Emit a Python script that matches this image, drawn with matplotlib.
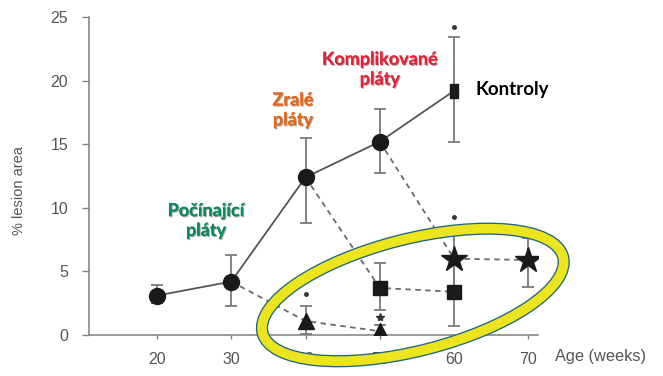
import matplotlib
matplotlib.use("Agg")
import matplotlib.pyplot as plt
import matplotlib.patheffects as pe
from matplotlib.patches import Ellipse
from matplotlib.transforms import ScaledTranslation
import numpy as np

# control group (solid line, circles -> square at 60 weeks)
ctrl_age = [20, 30, 40, 50, 60]
ctrl_val = [3.1, 4.2, 12.4, 15.2, 19.2]
ctrl_hi = [3.9, 6.3, 15.5, 17.8, 23.4]
ctrl_lo = [2.5, 2.3, 8.8, 12.7, 15.2]

# treatment started at 30 weeks (triangles)
tri_age = [40, 50]
tri_val = [1.1, 0.3]
tri_hi = [2.3, 0.8]
tri_lo = [0.05, 0.0]

# treatment started at 40 weeks (squares)
sq_age = [50, 60]
sq_val = [3.7, 3.4]
sq_hi = [5.7, 6.0]
sq_lo = [2.0, 0.7]

# treatment started at 50 weeks (stars)
star_age = [60, 70]
star_val = [6.0, 5.9]
star_hi = [8.3, 7.6]
star_lo = [3.8, 3.8]

# significance marks above bars
dot_age = [40, 60, 60]
dot_val = [3.2, 9.3, 24.2]
ast_age = [50]
ast_val = [1.4]

x_ticks = [20, 30, 40, 50, 60, 70]
y_ticks = [0, 5, 10, 15, 20, 25]

MARK = "#1a1a1a"
LINE = "#555555"
ERR = "#7a7a7a"
AXIS = "#7f7f7f"
TXT = "#555555"
SANS = ["Liberation Sans", "DejaVu Sans"]

# tall rectangle used for the control point at 60 weeks
TALL_BOX = [(-0.6, -1), (0.6, -1), (0.6, 1), (-0.6, 1), (-0.6, -1)]


def errbars(ax, x, v, hi, lo):
    v = np.array(v)
    yerr = [v - np.array(lo), np.array(hi) - v]
    ax.errorbar(x, v, yerr=yerr, fmt="none", ecolor=ERR, elinewidth=1.3,
                capsize=4.5, capthick=1.3, zorder=2)


def main():
    fig = plt.figure(figsize=(6.63, 3.76), dpi=100)
    ax = fig.add_axes([0.1342, 0.109, 0.6773, 0.8457])

    # error bars
    errbars(ax, ctrl_age, ctrl_val, ctrl_hi, ctrl_lo)
    errbars(ax, tri_age, tri_val, tri_hi, tri_lo)
    errbars(ax, sq_age, sq_val, sq_hi, sq_lo)
    errbars(ax, star_age, star_val, star_hi, star_lo)

    # lines
    ax.plot(ctrl_age, ctrl_val, color=LINE, lw=1.3, zorder=3)
    dash = dict(color="#6a6a6a", lw=1.3, ls=(0, (3, 2.5)), zorder=3)
    ax.plot([ctrl_age[1]] + tri_age, [ctrl_val[1]] + tri_val, **dash)
    ax.plot([ctrl_age[2]] + sq_age, [ctrl_val[2]] + sq_val, **dash)
    ax.plot([ctrl_age[3]] + star_age, [ctrl_val[3]] + star_val, **dash)

    # markers
    ax.plot(ctrl_age[:4], ctrl_val[:4], "o", color=MARK, ms=11.5, zorder=4)
    ax.plot(ctrl_age[4:], ctrl_val[4:], marker=TALL_BOX, ls="none",
            color=MARK, ms=10, zorder=4)
    ax.plot(tri_age, tri_val, "^", color=MARK, ms=11, zorder=4)
    ax.plot(sq_age, sq_val, "s", color=MARK, ms=10.5, zorder=4)
    ax.plot(star_age, star_val, "*", color=MARK, ms=19, zorder=4)
    ax.plot(dot_age, dot_val, ".", color="#333333", ms=5, zorder=4)
    ax.plot(ast_age, ast_val, "*", color="#333333", ms=6, zorder=4)

    # axes styling
    ax.set_xlim(10.85, 71.3)
    ax.set_ylim(0, 25)
    ax.set_xticks(x_ticks)
    ax.set_yticks(y_ticks)
    for s in ["top", "right"]:
        ax.spines[s].set_visible(False)
    for s in ["left", "bottom"]:
        ax.spines[s].set_color(AXIS)
        ax.spines[s].set_linewidth(1.1)
    ax.tick_params(colors=AXIS, labelcolor=TXT, labelsize=11.5, width=1)
    ax.tick_params(axis="y", length=5, pad=10)
    ax.tick_params(axis="x", length=3, pad=9)
    for lab in ax.get_xticklabels() + ax.get_yticklabels():
        lab.set_fontfamily(SANS)
    ax.set_ylabel("% lesion area", color=TXT, fontsize=10.5, fontfamily=SANS)
    ax.yaxis.set_label_coords(-0.140, 0.454)
    fig.text(0.837, 0.051, "Age (weeks)", color=TXT, fontsize=11.8,
             fontfamily=SANS, va="center", ha="left")

    # labels
    shadow = [pe.withSimplePatchShadow(offset=(0.8, -0.8), shadow_rgbFace="#555555", alpha=0.5),
              pe.Normal()]
    common = dict(fontfamily=["Lato", "DejaVu Sans"], fontweight="bold",
                  fontsize=13, ha="center", va="center", linespacing=1.2,
                  path_effects=shadow, zorder=6)
    ax.text(26.6, 9.0, "Počínající\npláty", color="#0c8a5c", **common)
    ax.text(38.3, 17.7, "Zralé\npláty", color="#e2691c", **common)
    ax.text(50.0, 20.9, "Komplikované\npláty", color="#e3243a", **common)
    ax.text(62.9, 19.3, "Kontroly", color="black", fontsize=13.5,
            fontfamily=["Lato", "DejaVu Sans"], fontweight="bold",
            ha="left", va="center", zorder=6)

    # yellow highlight ring
    tr = fig.dpi_scale_trans + ScaledTranslation(54.45, 3.15, ax.transData)
    ax.add_patch(Ellipse((0, 0), 3.10, 1.12, angle=14.2, transform=tr,
                         fill=False, ec="#1f6680", lw=8.8, clip_on=False, zorder=7))
    ax.add_patch(Ellipse((0, 0), 3.10, 1.12, angle=14.2, transform=tr,
                         fill=False, ec="#ece51e", lw=6.9, clip_on=False, zorder=8))

    fig.savefig("out.png", dpi=100)


if __name__ == "__main__":
    main()
